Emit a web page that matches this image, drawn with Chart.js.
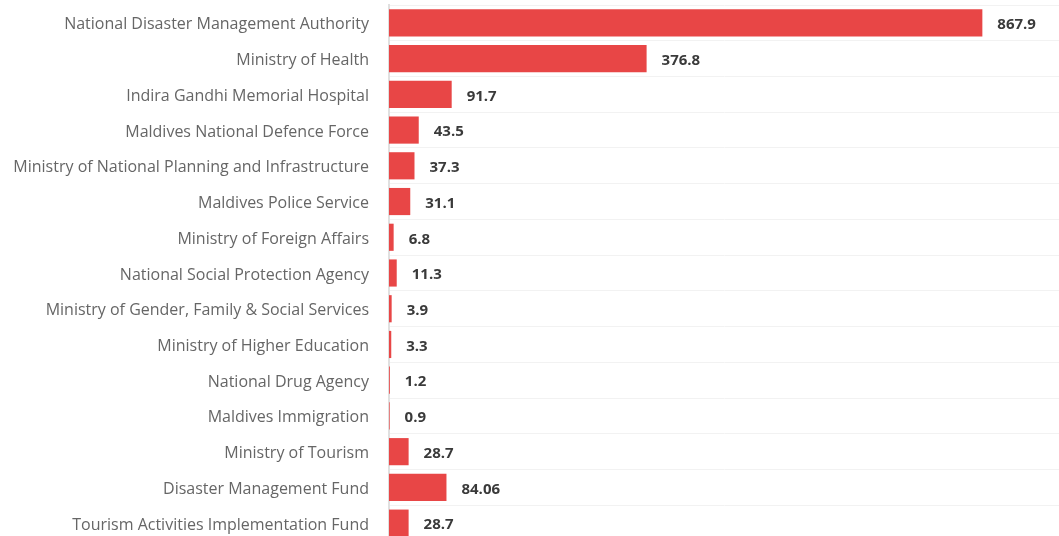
<!DOCTYPE html>
<html lang="en">
<head>
  <meta charset="UTF-8">
  <title>Expenditure by agency</title>
  <script src="https://cdn.jsdelivr.net/npm/chart.js"></script>
  <style>
    html, body {
      margin: 0;
      padding: 0;
      background: #fff;
      overflow: hidden;
    }
    #wrap {
      width: 1059px;
      height: 541px;
    }
  </style>
</head>
<body>
  <div id="wrap"><canvas id="barChart"></canvas></div>

  <script>
    const agencies = [
      "National Disaster Management Authority",
      "Ministry of Health",
      "Indira Gandhi Memorial Hospital",
      "Maldives National Defence Force",
      "Ministry of National Planning and Infrastructure",
      "Maldives Police Service",
      "Ministry of Foreign Affairs",
      "National Social Protection Agency",
      "Ministry of Gender, Family & Social Services",
      "Ministry of Higher Education",
      "National Drug Agency",
      "Maldives Immigration",
      "Ministry of Tourism",
      "Disaster Management Fund",
      "Tourism Activities Implementation Fund"
    ];
    const amounts = [867.9, 376.8, 91.7, 43.5, 37.3, 31.1, 6.8, 11.3, 3.9, 3.3, 1.2, 0.9, 28.7, 84.06, 28.7];
    const amountLabels = ["867.9", "376.8", "91.7", "43.5", "37.3", "31.1", "6.8", "11.3", "3.9", "3.3", "1.2", "0.9", "28.7", "84.06", "28.7"];

    // value labels at the end of each bar
    const endLabels = {
      id: 'endLabels',
      afterDatasetsDraw(chart) {
        const ctx = chart.ctx;
        const meta = chart.getDatasetMeta(0);
        ctx.save();
        ctx.font = "bold 15px 'Open Sans', sans-serif";
        ctx.fillStyle = '#3a3a3a';
        ctx.textAlign = 'left';
        ctx.textBaseline = 'middle';
        meta.data.forEach((bar, i) => {
          ctx.fillText(amountLabels[i], bar.x + 15, bar.y + 2);
        });
        ctx.restore();
      }
    };

    new Chart(document.getElementById('barChart'), {
      type: 'bar',
      data: {
        labels: agencies,
        datasets: [{
          data: amounts,
          backgroundColor: '#e84646',
          borderWidth: 0,
          barPercentage: 0.76,
          categoryPercentage: 1
        }]
      },
      options: {
        indexAxis: 'y',
        responsive: true,
        maintainAspectRatio: false,
        animation: false,
        layout: { padding: { top: 5, right: 0, bottom: 0, left: 0 } },
        plugins: {
          legend: { display: false },
          tooltip: { enabled: false }
        },
        scales: {
          x: {
            display: false,
            min: 0,
            max: 980
          },
          y: {
            afterFit(scale) {
              scale.width = 389;
              scale.paddingTop = 0;
              scale.paddingBottom = 0;
            },
            grid: {
              color: '#f2f2f2',
              lineWidth: 1,
              drawTicks: false
            },
            border: { color: '#e0e0e0', width: 2 },
            ticks: {
              padding: 20,
              labelOffset: 2,
              color: '#666666',
              font: { family: "'Open Sans', sans-serif", size: 16 }
            }
          }
        }
      },
      plugins: [endLabels]
    });
  </script>
</body>
</html>
